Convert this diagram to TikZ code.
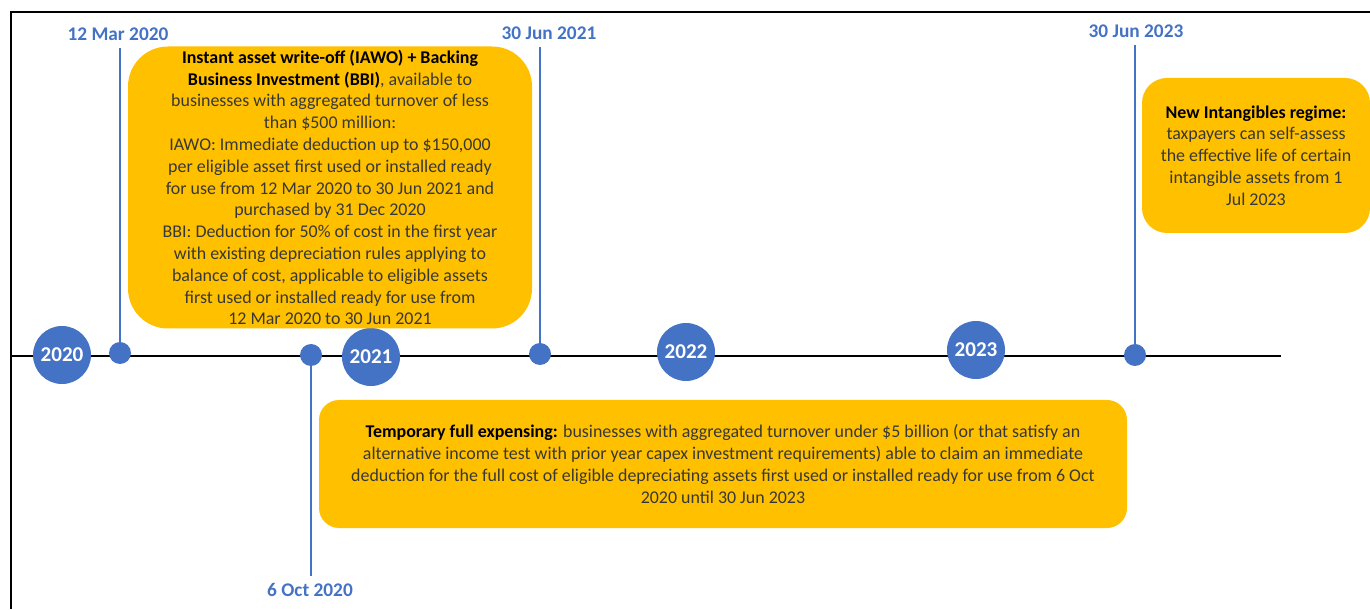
\documentclass[tikz,border=0pt]{standalone}
\usepackage{fontspec}
\setmainfont{Carlito}
\definecolor{yearblue}{HTML}{4472C4}
\definecolor{notegold}{HTML}{FFC000}
\definecolor{notetext}{HTML}{383838}
\newcommand{\notefont}{\fontsize{10.2pt}{12.4pt}\selectfont}
\newcommand{\datefont}{\fontsize{11pt}{12pt}\selectfont\bfseries}
\newcommand{\yearfont}{\fontsize{12pt}{13pt}\selectfont\bfseries}
\newcommand{\notehead}[1]{{\color{black}\bfseries #1}}
\tikzset{
  yearnode/.style={circle,fill=yearblue,text=white,font=\yearfont,minimum size=1.16cm,inner sep=0pt},
  eventdot/.style={circle,fill=yearblue,minimum size=0.44cm,inner sep=0pt},
  stem/.style={yearblue,line width=1.1pt},
  datelabel/.style={text=yearblue,font=\datefont,inner sep=2pt},
  notebox/.style={fill=notegold,align=center,font=\notefont,text=notetext,inner sep=0pt}
}

\begin{document}
\begin{tikzpicture}
\useasboundingbox (0,0) rectangle (27.4,12.18);
\draw[line width=1pt] (0.22,0) -- (0.22,11.94) -- (27.4,11.94);

\coordinate (tstart) at (0.22,5.06);
\coordinate (tend) at (25.62,5.06);
\draw[line width=1.4pt] (tstart) -- (tend);

\node[yearnode] (y2020) at (1.24,5.08) {2020};
\node[yearnode] (y2021) at (7.42,5.04) {2021};
\node[yearnode] (y2022) at (13.72,5.14) {2022};
\node[yearnode] (y2023) at (19.52,5.18) {2023};

\node[eventdot] (d12mar) at (2.40,5.12) {};
\node[eventdot] (d6oct) at (6.22,5.08) {};
\node[eventdot] (d30jun21) at (10.80,5.10) {};
\node[eventdot] (d30jun23) at (22.70,5.08) {};

\node[datelabel] (l12mar) at (2.36,11.50) {12 Mar 2020};
\node[datelabel] (l30jun21) at (10.98,11.52) {30 Jun 2021};
\node[datelabel] (l30jun23) at (22.72,11.56) {30 Jun 2023};
\node[datelabel] (l6oct) at (6.20,0.38) {6 Oct 2020};

\draw[stem,shorten >=2pt] (d12mar) -- (d12mar |- l12mar.south);
\draw[stem,shorten >=2pt] (d30jun21) -- (d30jun21 |- l30jun21.south);
\draw[stem,shorten >=2pt] (d30jun23) -- (d30jun23 |- l30jun23.south);
\draw[stem,shorten >=2pt] (d6oct) -- (d6oct |- l6oct.north);

\node[notebox,rounded corners=0.8cm,minimum width=8.08cm,minimum height=5.64cm] (iawo) at (6.60,8.43) {%
\notehead{Instant asset write-off (IAWO) + Backing}\\
\notehead{Business Investment (BBI)}, available to\\
businesses with aggregated turnover of less\\
than \$500 million:\\
IAWO: Immediate deduction up to \$150,000\\
per eligible asset first used or installed ready\\
for use from 12 Mar 2020 to 30 Jun 2021 and\\
purchased by 31 Dec 2020\\
BBI: Deduction for 50\% of cost in the first year\\
with existing depreciation rules applying to\\
balance of cost, applicable to eligible assets\\
first used or installed ready for use from\\
12 Mar 2020 to 30 Jun 2021};

\node[notebox,rounded corners=0.5cm,minimum width=4.56cm,minimum height=3.1cm] (intang) at (25.12,9.07) {%
\notehead{New Intangibles regime:}\\
taxpayers can self-assess\\
the effective life of certain\\
intangible assets from 1\\
Jul 2023};

\node[notebox,rounded corners=0.4cm,minimum width=16.16cm,minimum height=2.56cm] (tfe) at (14.46,2.90) {%
\notehead{Temporary full expensing:} businesses with aggregated turnover under \$5 billion (or that satisfy an\\
alternative income test with prior year capex investment requirements) able to claim an immediate\\
deduction for the full cost of eligible depreciating assets first used or installed ready for use from 6 Oct\\
2020 until 30 Jun 2023};

\end{tikzpicture}
\end{document}
